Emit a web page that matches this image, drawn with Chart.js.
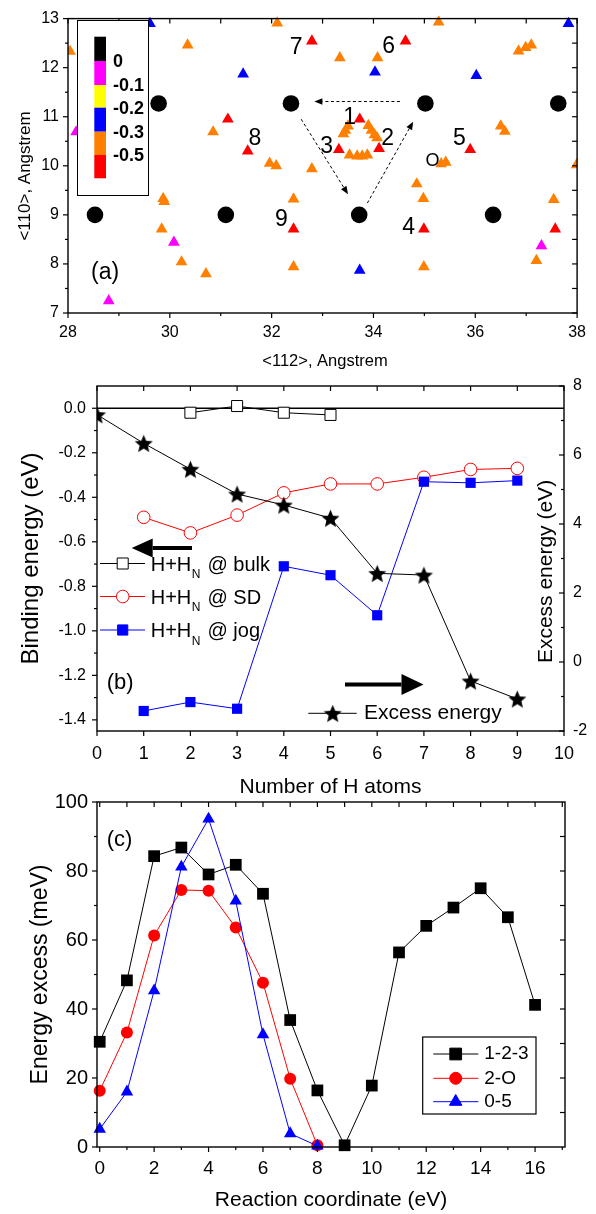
<!DOCTYPE html>
<html>
<head>
<meta charset="utf-8">
<script src="https://cdn.jsdelivr.net/npm/chart.js@4.4.0/dist/chart.umd.min.js"></script>
<style>
  body { margin: 0; background: #fff; }
  #page { position: relative; width: 596px; height: 1214px; overflow: hidden; background: #fff; }
  canvas { position: absolute; left: 0; }
</style>
</head>
<body>
<div id="page">
  <canvas id="chartA" width="596" height="380" style="top:0px"></canvas>
  <canvas id="chartB" width="596" height="448" style="top:352px"></canvas>
  <canvas id="chartC" width="596" height="434" style="top:780px"></canvas>
</div>
<script>
var FONT = '"Liberation Sans", Arial, Helvetica, sans-serif';
Chart.defaults.font.family = FONT;
Chart.defaults.color = '#000';
Chart.defaults.animation = false;

// ---------- (a) H sites, <112> vs <110> ----------
var siteX = [29.78, 32.38, 35.02, 37.63, 28.53, 31.1, 33.72, 36.35];
var siteY = [11.27, 11.27, 11.27, 11.27, 9.0, 9.0, 9.0, 9.0];
var magX = [28.16, 30.08, 28.8, 37.3];
var magY = [10.69, 8.44, 7.25, 8.37];
var blueX = [29.61, 31.44, 34.03, 36.02, 37.83, 33.73];
var blueY = [12.9, 11.87, 11.91, 11.84, 12.9, 7.87];
var redX = [31.14, 31.53, 32.79, 34.63, 33.73, 33.32, 34.11, 35.9, 32.43, 34.99, 37.57];
var redY = [10.95, 10.3, 12.54, 12.54, 10.95, 10.33, 10.35, 10.33, 8.71, 8.71, 8.71];
var orangeX = [28.04, 30.35, 30.85, 31.96, 32.09, 32.11, 33.34, 34.08, 35.28, 36.85, 36.99, 37.1,
  33.45, 33.41, 33.5, 33.9, 33.96, 34.02, 34.07, 33.53, 33.68, 33.78, 33.88, 36.5, 36.58,
  35.33, 35.42, 37.99, 29.87, 29.89, 29.84, 30.23, 30.71, 32.43, 32.43, 32.79, 34.85, 34.98,
  34.99, 37.54, 37.2];
var orangeY = [12.33, 12.46, 10.69, 10.05, 10.0, 12.91, 12.2, 12.2, 12.93, 12.34, 12.41, 12.46,
  10.72, 10.65, 10.81, 10.82, 10.72, 10.63, 10.57, 10.22, 10.2, 10.2, 10.22, 10.81, 10.7,
  10.04, 10.07, 10.02, 9.33, 9.27, 8.71, 8.04, 7.8, 9.32, 7.94, 9.94, 9.63, 9.33,
  7.94, 9.31, 8.07];
var aXTicks = [28, 30, 32, 34, 36, 38];
var aXMinor = [29, 31, 33, 35, 37];
var aXTop = [28, 29, 30, 31, 32, 33, 34, 35, 36, 37, 38];
var aYTicks = [7, 8, 9, 10, 11, 12, 13];
var aYMinor = [7.5, 8.5, 9.5, 10.5, 11.5, 12.5];
var aYRight = [7, 7.5, 8, 8.5, 9, 9.5, 10, 10.5, 11, 11.5, 12, 12.5, 13];
var scaleLabels = ['0', '-0.1', '-0.2', '-0.3', '-0.5'];
var scaleColors = ['#000000', '#ff00ff', '#ffff00', '#0000ff', '#ff8000', '#ff0000'];
var siteLabels = ['7', '6', '1', '2', '3', '5', 'O', '8', '9', '4'];

// ---------- (b) binding / excess energy vs number of H atoms ----------
var bulkN = [2, 3, 4, 5];
var bulkE = [-0.02, 0.01, -0.02, -0.03];
var sdN = [1, 2, 3, 4, 5, 6, 7, 8, 9];
var sdE = [-0.49, -0.56, -0.48, -0.38, -0.34, -0.34, -0.31, -0.275, -0.27];
var jogE = [-1.36, -1.32, -1.35, -0.71, -0.75, -0.93, -0.33, -0.335, -0.325];
var excessN = [0, 1, 2, 3, 4, 5, 6, 7, 8, 9];
var excessE = [7.17, 6.34, 5.59, 4.87, 4.55, 4.17, 2.57, 2.52, -0.55, -1.07];
var bXTicks = [0, 1, 2, 3, 4, 5, 6, 7, 8, 9, 10];
var bYTicks = [-1.4, -1.2, -1.0, -0.8, -0.6, -0.4, -0.2, 0.0];
var bYMinor = [-1.3, -1.1, -0.9, -0.7, -0.5, -0.3, -0.1];
var bY2Ticks = [-2, 0, 2, 4, 6, 8];
var bY2Minor = [-1, 1, 3, 5, 7];

// ---------- (c) energy along reaction paths ----------
var coordLong = [0, 1, 2, 3, 4, 5, 6, 7, 8, 9, 10, 11, 12, 13, 14, 15, 16];
var path123 = [30.5, 48.3, 84.3, 86.8, 79.0, 81.8, 73.4, 36.8, 16.4, 0.5, 17.8, 56.4, 64.1, 69.4, 75.0, 66.6, 41.2];
var coordShort = [0, 1, 2, 3, 4, 5, 6, 7, 8];
var path2O = [16.3, 33.2, 61.3, 74.5, 74.3, 63.6, 47.6, 19.8, 0.5];
var path05 = [5.2, 16.0, 45.3, 81.2, 95.1, 71.3, 32.6, 3.9, 0.3];
var cXTicks = [0, 2, 4, 6, 8, 10, 12, 14, 16];
var cXMinor = [1, 3, 5, 7, 9, 11, 13, 15, 17];
var cXTop = [0, 1, 2, 3, 4, 5, 6, 7, 8, 9, 10, 11, 12, 13, 14, 15, 16, 17];
var cYTicks = [0, 20, 40, 60, 80, 100];
var cYMinor = [10, 30, 50, 70, 90];
var cYRight = [10, 20, 30, 40, 50, 60, 70, 80, 90];

function pts(xs, ys) {
  return xs.map(function(x, i) { return { x: x, y: ys[i] }; });
}

function axis(o) {
  return {
    type: 'linear',
    position: o.position,
    min: o.min,
    max: o.max,
    grid: { display: false, drawTicks: false },
    border: { display: false },
    ticks: {
      padding: o.pad,
      autoSkip: false,
      maxRotation: 0,
      color: '#000',
      font: { size: o.size },
      callback: o.fmt || function(v) { return String(v); }
    },
    afterBuildTicks: function(s) { s.ticks = o.ticks.map(function(v) { return { value: v }; }); },
    afterFit: function(s) { if (s.isHorizontal()) s.height = o.fit; else s.width = o.fit; }
  };
}

function line(ctx, x1, y1, x2, y2) {
  ctx.beginPath(); ctx.moveTo(x1, y1); ctx.lineTo(x2, y2); ctx.stroke();
}

// frame + major/minor ticks: left/bottom outward, top/right inward
function drawFrame(chart, marks) {
  var ctx = chart.ctx, a = chart.chartArea;
  ctx.save();
  ctx.strokeStyle = '#000';
  ctx.lineWidth = 1.4;
  ctx.strokeRect(a.left, a.top, a.right - a.left, a.bottom - a.top);
  ctx.lineWidth = 1.2;
  marks.forEach(function(m) {
    var s = chart.scales[m.scale];
    m.values.forEach(function(v) {
      var p = s.getPixelForValue(v);
      if (m.side === 'bottom') line(ctx, p, a.bottom, p, a.bottom + m.len);
      else if (m.side === 'top') line(ctx, p, a.top, p, a.top + m.len);
      else if (m.side === 'left') line(ctx, a.left, p, a.left - m.len, p);
      else line(ctx, a.right, p, a.right - m.len, p);
    });
  });
  ctx.restore();
}

function text(ctx, str, x, y, size, opt) {
  opt = opt || {};
  ctx.save();
  ctx.fillStyle = '#000';
  ctx.font = (opt.bold ? 'bold ' : '') + size + 'px ' + FONT;
  ctx.textAlign = opt.align || 'left';
  ctx.textBaseline = opt.base || 'middle';
  ctx.translate(x, y);
  if (opt.rot) ctx.rotate(opt.rot);
  ctx.fillText(str, 0, 0);
  ctx.restore();
}

function arrow(ctx, x1, y1, x2, y2, head, halfW, width, dash) {
  var ang = Math.atan2(y2 - y1, x2 - x1);
  var bx = x2 - head * Math.cos(ang), by = y2 - head * Math.sin(ang);
  ctx.save();
  ctx.strokeStyle = '#000'; ctx.fillStyle = '#000'; ctx.lineWidth = width;
  ctx.setLineDash(dash || []);
  line(ctx, x1, y1, bx, by);
  ctx.setLineDash([]);
  ctx.beginPath();
  ctx.moveTo(x2, y2);
  ctx.lineTo(bx + halfW * Math.sin(ang), by - halfW * Math.cos(ang));
  ctx.lineTo(bx - halfW * Math.sin(ang), by + halfW * Math.cos(ang));
  ctx.closePath();
  ctx.fill();
  ctx.restore();
}

function marker(ctx, style, x, y, r, fill, stroke) {
  ctx.save();
  if (style instanceof HTMLCanvasElement) {
    ctx.drawImage(style, x - style.width / 2, y - style.height / 2);
    ctx.restore();
    return;
  }
  ctx.fillStyle = fill; ctx.strokeStyle = stroke; ctx.lineWidth = 1;
  ctx.beginPath();
  if (style === 'rect') { var h = r * Math.SQRT1_2; ctx.rect(x - h, y - h, 2 * h, 2 * h); }
  else if (style === 'circle') ctx.arc(x, y, r, 0, 2 * Math.PI);
  else { ctx.moveTo(x, y - r); ctx.lineTo(x + r * 0.866, y + r / 2); ctx.lineTo(x - r * 0.866, y + r / 2); ctx.closePath(); }
  ctx.fill(); ctx.stroke();
  ctx.restore();
}

function starImage(r) {
  var c = document.createElement('canvas');
  var s = Math.ceil(2 * r + 2);
  c.width = s; c.height = s;
  var g = c.getContext('2d');
  g.beginPath();
  for (var i = 0; i < 10; i++) {
    var rad = i % 2 ? r * 0.45 : r;
    var t = -Math.PI / 2 + i * Math.PI / 5;
    g.lineTo(s / 2 + rad * Math.cos(t), s / 2 + 1 + rad * Math.sin(t));
  }
  g.closePath();
  g.fillStyle = '#000';
  g.fill();
  return c;
}
var star = starImage(9.5);

var baseOptions = {
  responsive: false,
  devicePixelRatio: 1,
  events: [],
  plugins: { legend: { display: false }, tooltip: { enabled: false } }
};

// ================= chart A =================
var tri = { pointStyle: 'triangle', pointRadius: 6.8, borderWidth: 0, showLine: false, clip: { left: 0, right: 0, top: 3, bottom: 3 } };
new Chart(document.getElementById('chartA'), {
  type: 'scatter',
  data: {
    datasets: [
      Object.assign({ data: pts(siteX, siteY), pointStyle: 'circle', pointRadius: 8.3, backgroundColor: '#000', borderWidth: 0, showLine: false }),
      Object.assign({ data: pts(orangeX, orangeY), backgroundColor: '#ff8000' }, tri),
      Object.assign({ data: pts(redX, redY), backgroundColor: '#ff0000' }, tri),
      Object.assign({ data: pts(blueX, blueY), backgroundColor: '#0000ff' }, tri),
      Object.assign({ data: pts(magX, magY), backgroundColor: '#ff00ff' }, tri)
    ]
  },
  options: Object.assign({}, baseOptions, {
    layout: { padding: { left: 0, right: 14, top: 15, bottom: 0 } },
    scales: {
      x: axis({ position: 'bottom', min: 28, max: 38, ticks: aXTicks, pad: 10, size: 16, fit: 67 }),
      y: axis({ position: 'left', min: 7, max: 13, ticks: aYTicks, pad: 9, size: 16, fit: 68 })
    }
  }),
  plugins: [{
    id: 'decorA',
    afterDatasetsDraw: function(chart) {
      var ctx = chart.ctx, x = chart.scales.x, y = chart.scales.y;
      drawFrame(chart, [
        { scale: 'x', side: 'bottom', values: aXTicks, len: 5 },
        { scale: 'x', side: 'bottom', values: aXMinor, len: 3 },
        { scale: 'x', side: 'top', values: aXTop, len: 5 },
        { scale: 'y', side: 'left', values: aYTicks, len: 5 },
        { scale: 'y', side: 'left', values: aYMinor, len: 3 },
        { scale: 'y', side: 'right', values: aYRight, len: 5 }
      ]);
      // dashed hop arrows between the sites
      var hops = [[34.52, 11.31, 32.84, 11.31], [32.58, 10.95, 33.5, 9.42], [33.88, 9.24, 34.78, 10.9]];
      hops.forEach(function(h) {
        arrow(ctx, x.getPixelForValue(h[0]), y.getPixelForValue(h[1]),
          x.getPixelForValue(h[2]), y.getPixelForValue(h[3]), 8, 3.2, 1, [3, 2.5]);
      });
      var where = [[32.48, 12.40], [34.30, 12.43], [33.53, 10.99], [34.28, 10.55], [33.08, 10.38],
        [35.69, 10.55], [35.16, 10.10], [31.67, 10.55], [32.19, 8.91], [34.69, 8.74]];
      siteLabels.forEach(function(s, i) {
        text(ctx, s, x.getPixelForValue(where[i][0]), y.getPixelForValue(where[i][1]),
          s === 'O' ? 18 : 23, { align: 'center' });
      });
      text(ctx, '(a)', 91, 273, 23);
      // colour scale legend
      ctx.save();
      ctx.fillStyle = '#fff';
      ctx.fillRect(77.5, 20.5, 71, 175);
      ctx.strokeStyle = '#000'; ctx.lineWidth = 1;
      ctx.strokeRect(77.5, 20.5, 71, 175);
      var edges = [36.7, 61, 85, 107.7, 131.7, 155, 178.3];
      scaleColors.forEach(function(c, i) {
        ctx.fillStyle = c;
        ctx.fillRect(94.3, edges[i], 11.7, edges[i + 1] - edges[i]);
      });
      ctx.restore();
      scaleLabels.forEach(function(s, i) { text(ctx, s, 113, edges[i + 1] + 1.5, 18, { bold: true }); });
      text(ctx, '<112>, Angstrem', 325, 361, 16.5, { align: 'center' });
      text(ctx, '<110>, Angstrem', 25, 176, 17, { align: 'center', rot: -Math.PI / 2 });
    }
  }]
});

// ================= chart B =================
new Chart(document.getElementById('chartB'), {
  type: 'scatter',
  data: {
    datasets: [
      { data: pts([0, 10], [0, 0]), showLine: true, borderColor: '#000', borderWidth: 1.3, pointRadius: 0, order: 5, clip: false },
      { data: pts(bulkN, bulkE), showLine: true, borderColor: '#000', borderWidth: 1, pointStyle: 'rect', pointRadius: 7.8,
        backgroundColor: '#fff', pointBorderColor: '#000', pointBorderWidth: 1, order: 4 },
      { data: pts(sdN, sdE), showLine: true, borderColor: '#ff0000', borderWidth: 1, pointStyle: 'circle', pointRadius: 6.3,
        backgroundColor: '#fff', pointBorderColor: '#ff0000', pointBorderWidth: 1, order: 3 },
      { data: pts(sdN, jogE), showLine: true, borderColor: '#0000ff', borderWidth: 1, pointStyle: 'rect', pointRadius: 7.2,
        backgroundColor: '#0000ff', pointBorderColor: '#0000ff', pointBorderWidth: 0, order: 2 },
      { data: pts(excessN, excessE), yAxisID: 'y2', showLine: true, borderColor: '#000', borderWidth: 1, pointStyle: star,
        order: 1 }
    ]
  },
  options: Object.assign({}, baseOptions, {
    layout: { padding: { left: 0, right: 0, top: 34, bottom: 0 } },
    scales: {
      x: axis({ position: 'bottom', min: 0, max: 10, ticks: bXTicks, pad: 12, size: 18, fit: 69 }),
      y: axis({ position: 'left', min: -1.45, max: 0.1, ticks: bYTicks, pad: 11, size: 16, fit: 97,
        fmt: function(v) { return v.toFixed(1); } }),
      y2: axis({ position: 'right', min: -2, max: 8, ticks: bY2Ticks, pad: 9, size: 16, fit: 32 })
    }
  }),
  plugins: [{
    id: 'decorB',
    afterDatasetsDraw: function(chart) {
      var ctx = chart.ctx;
      drawFrame(chart, [
        { scale: 'x', side: 'bottom', values: bXTicks, len: 5 },
        { scale: 'x', side: 'top', values: bXTicks, len: 5 },
        { scale: 'y', side: 'left', values: bYTicks, len: 5 },
        { scale: 'y', side: 'left', values: bYMinor, len: 3 },
        { scale: 'y2', side: 'right', values: bY2Ticks, len: 5 },
        { scale: 'y2', side: 'right', values: bY2Minor, len: 3 }
      ]);
      ctx.save();
      ctx.translate(0, -352);
      arrow(ctx, 192, 548, 131.7, 548, 21, 9.5, 4);
      arrow(ctx, 345, 684.5, 423.5, 684.5, 22, 10.5, 4);
      var rows = [
        { y: 563.5, name: ' @ bulk', style: 'rect', r: 7.8, fill: '#fff', col: '#000' },
        { y: 596.5, name: ' @ SD', style: 'circle', r: 6.3, fill: '#fff', col: '#ff0000' },
        { y: 630, name: ' @ jog', style: 'rect', r: 7.2, fill: '#0000ff', col: '#0000ff' }
      ];
      rows.forEach(function(r) {
        ctx.strokeStyle = r.col; ctx.lineWidth = 1;
        line(ctx, 100, r.y, 145, r.y);
        marker(ctx, r.style, 122.7, r.y, r.r, r.fill, r.col);
        ctx.font = '20px ' + FONT;
        var w1 = ctx.measureText('H+H').width;
        text(ctx, 'H+H', 150.7, r.y + 7.3, 20, { base: 'alphabetic' });
        ctx.font = '12px ' + FONT;
        var w2 = ctx.measureText('N').width;
        text(ctx, 'N', 150.7 + w1 + 0.5, r.y + 14.5, 12, { base: 'alphabetic' });
        text(ctx, r.name, 150.7 + w1 + w2 + 2, r.y + 7.3, 20, { base: 'alphabetic' });
      });
      ctx.strokeStyle = '#000'; ctx.lineWidth = 1;
      line(ctx, 308.3, 713.3, 356.7, 713.3);
      marker(ctx, star, 332.7, 713.3);
      text(ctx, 'Excess energy', 364, 713.3, 21);
      text(ctx, '(b)', 106.7, 683, 22);
      text(ctx, 'Number of H atoms', 330.5, 787.5, 21, { align: 'center' });
      text(ctx, 'Binding energy (eV)', 31, 558.5, 24, { align: 'center', rot: -Math.PI / 2 });
      text(ctx, 'Excess energy (eV)', 546.5, 571.5, 21, { align: 'center', rot: -Math.PI / 2 });
      ctx.restore();
    }
  }]
});

// ================= chart C =================
new Chart(document.getElementById('chartC'), {
  type: 'scatter',
  data: {
    datasets: [
      { label: '1-2-3', data: pts(coordLong, path123), showLine: true, borderColor: '#000', borderWidth: 1,
        pointStyle: 'rect', pointRadius: 8.3, backgroundColor: '#000', pointBorderWidth: 0, order: 3, clip: false },
      { label: '2-O', data: pts(coordShort, path2O), showLine: true, borderColor: '#ff0000', borderWidth: 1,
        pointStyle: 'circle', pointRadius: 6, backgroundColor: '#ff0000', pointBorderWidth: 0, order: 2, clip: false },
      { label: '0-5', data: pts(coordShort, path05), showLine: true, borderColor: '#0000ff', borderWidth: 1,
        pointStyle: 'triangle', pointRadius: 7.2, backgroundColor: '#0000ff', pointBorderWidth: 0, order: 1, clip: false }
    ]
  },
  options: Object.assign({}, baseOptions, {
    layout: { padding: { left: 0, right: 31, top: 22, bottom: 0 } },
    scales: {
      x: axis({ position: 'bottom', min: -0.1, max: 17.1, ticks: cXTicks, pad: 10, size: 19, fit: 67 }),
      y: axis({ position: 'left', min: 0, max: 100, ticks: cYTicks, pad: 9, size: 20, fit: 97 })
    }
  }),
  plugins: [{
    id: 'decorC',
    afterDatasetsDraw: function(chart) {
      var ctx = chart.ctx;
      drawFrame(chart, [
        { scale: 'x', side: 'bottom', values: cXTicks, len: 5 },
        { scale: 'x', side: 'bottom', values: cXMinor, len: 3 },
        { scale: 'x', side: 'top', values: cXTop, len: 5 },
        { scale: 'y', side: 'left', values: cYTicks, len: 5 },
        { scale: 'y', side: 'left', values: cYMinor, len: 3 },
        { scale: 'y', side: 'right', values: cYRight, len: 5 }
      ]);
      ctx.save();
      ctx.translate(0, -780);
      ctx.fillStyle = '#fff';
      ctx.fillRect(422.7, 1037, 113.3, 77);
      ctx.strokeStyle = '#000'; ctx.lineWidth = 1.2;
      ctx.strokeRect(422.7, 1037, 113.3, 77);
      var rowY = [1054, 1078.3, 1101.7];
      chart.data.datasets.forEach(function(d, i) {
        ctx.strokeStyle = d.borderColor; ctx.lineWidth = 1;
        line(ctx, 433.3, rowY[i], 478.3, rowY[i]);
        marker(ctx, d.pointStyle, 455.7, rowY[i], d.pointRadius, d.backgroundColor, d.backgroundColor);
        text(ctx, d.label, 484.3, rowY[i], 19);
      });
      text(ctx, '(c)', 106.7, 840, 22);
      text(ctx, 'Reaction coordinate (eV)', 331, 1200, 21, { align: 'center' });
      text(ctx, 'Energy excess (meV)', 41, 974.5, 23, { align: 'center', rot: -Math.PI / 2 });
      ctx.restore();
    }
  }]
});
</script>
</body>
</html>
